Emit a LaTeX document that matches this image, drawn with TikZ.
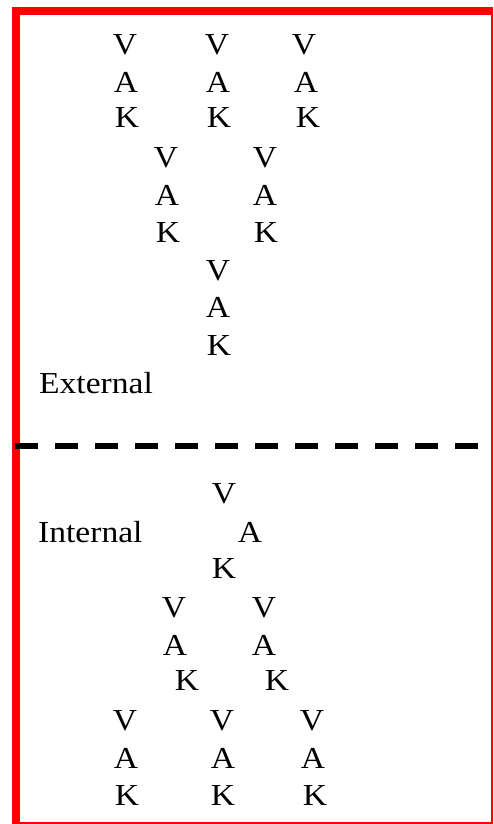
\documentclass[tikz,border=0pt]{standalone}
\usepackage{fontspec}
\setmainfont[FakeStretch=1.1]{Liberation Serif}
\begin{document}
\begin{tikzpicture}[x=1pt,y=1pt,
  lbl/.style={anchor=base,inner sep=0pt,font=\fontsize{30.5}{36}\selectfont},
  word/.style={anchor=base west,inner sep=0pt,font=\fontsize{30.5}{36}\selectfont},
  redbar/.style={fill=red,draw=none}]
\useasboundingbox (0,0) rectangle (494,-824);
% frame
\fill[redbar] (12,-7) rectangle (493,-15);
\fill[redbar] (12,-7) rectangle (20,-824);
\fill[redbar] (490.5,-7) rectangle (493,-824);
\fill[redbar] (12,-822) rectangle (493,-824);
% dashed separator
\coordinate (sepL) at (15,-446);
\coordinate (sepR) at (482,-446);
\draw[line width=6pt,dash pattern=on 23.3pt off 16.7pt] (sepL) -- (sepR);
% External part
\node[lbl] (e1v) at (125,-55) {V};
\node[lbl] (e1a) at (126,-93) {A};
\node[lbl] (e1k) at (127,-128) {K};
\node[lbl] (e2v) at (217,-55) {V};
\node[lbl] (e2a) at (218,-93) {A};
\node[lbl] (e2k) at (219,-128) {K};
\node[lbl] (e3v) at (304,-55) {V};
\node[lbl] (e3a) at (306,-93) {A};
\node[lbl] (e3k) at (308,-128) {K};
\node[lbl] (e4v) at (166,-167) {V};
\node[lbl] (e4a) at (167,-205) {A};
\node[lbl] (e4k) at (168,-242) {K};
\node[lbl] (e5v) at (265,-167) {V};
\node[lbl] (e5a) at (265,-205) {A};
\node[lbl] (e5k) at (266,-242) {K};
\node[lbl] (e6v) at (218,-280) {V};
\node[lbl] (e6a) at (218,-317) {A};
\node[lbl] (e6k) at (219,-355) {K};
\node[word] (ext) at (39,-393) {External};
% Internal part
\node[lbl] (i1v) at (224,-503) {V};
\node[word] (int) at (38,-542) {Internal};
\node[lbl] (i1a) at (250,-542) {A};
\node[lbl] (i1k) at (224,-578) {K};
\node[lbl] (i2v) at (174,-617) {V};
\node[lbl] (i2a) at (175,-655) {A};
\node[lbl] (i2k) at (187,-690) {K};
\node[lbl] (i3v) at (264,-617) {V};
\node[lbl] (i3a) at (264,-655) {A};
\node[lbl] (i3k) at (277,-690) {K};
\node[lbl] (i4v) at (125,-730) {V};
\node[lbl] (i4a) at (126,-768) {A};
\node[lbl] (i4k) at (127,-805) {K};
\node[lbl] (i5v) at (222,-730) {V};
\node[lbl] (i5a) at (223,-768) {A};
\node[lbl] (i5k) at (223,-805) {K};
\node[lbl] (i6v) at (312,-730) {V};
\node[lbl] (i6a) at (313,-768) {A};
\node[lbl] (i6k) at (315,-805) {K};
\end{tikzpicture}
\end{document}
